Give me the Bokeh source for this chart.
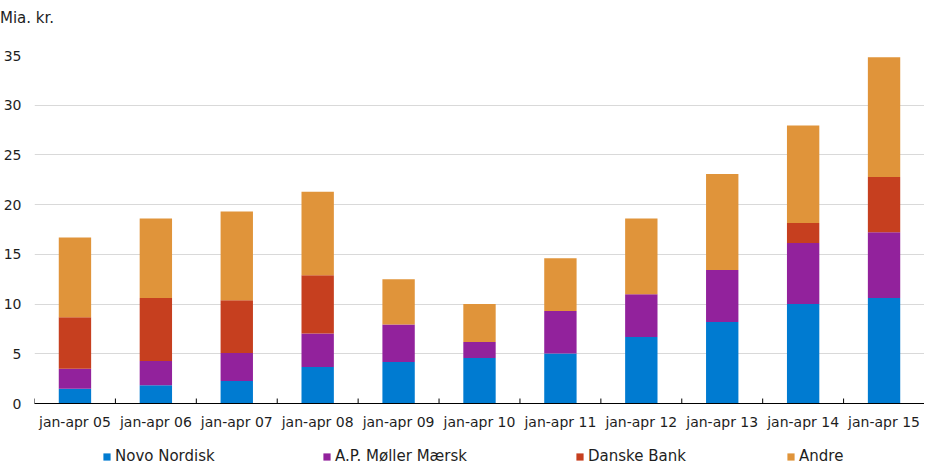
from bokeh.plotting import figure
from bokeh.layouts import column
from bokeh.models import FixedTicker, Legend, LegendItem, Range1d, ColumnDataSource, Div
from bokeh.embed import file_html
from bokeh.resources import INLINE

categories = ["jan-apr 05", "jan-apr 06", "jan-apr 07", "jan-apr 08", "jan-apr 09",
              "jan-apr 10", "jan-apr 11", "jan-apr 12", "jan-apr 13", "jan-apr 14", "jan-apr 15"]
novo_nordisk = [1.48, 1.84, 2.27, 3.68, 4.18, 4.58, 5.02, 6.70, 8.20, 10.01, 10.61]
ap_moller_maersk = [2.01, 2.44, 2.82, 3.35, 3.76, 1.61, 4.29, 4.28, 5.23, 6.13, 6.61]
danske_bank = [5.19, 6.32, 5.29, 5.87, 0.0, 0.0, 0.0, 0.0, 0.0, 2.01, 5.55]
andre = [8.02, 8.00, 8.92, 8.40, 4.56, 3.81, 5.29, 7.62, 9.65, 9.82, 12.06]
series_names = ["Novo Nordisk", "A.P. Møller Mærsk", "Danske Bank", "Andre"]
colors = ["#007bd1", "#92229c", "#c63f1f", "#e0943a"]
y_ticks = [0, 5, 10, 15, 20, 25, 30, 35]
unit_label = "Mia. kr."

FONT = "DejaVu Sans"
TXT = "#1e1e1e"
n = len(categories)

source = ColumnDataSource(data={
    "x": list(range(n)),
    series_names[0]: novo_nordisk,
    series_names[1]: ap_moller_maersk,
    series_names[2]: danske_bank,
    series_names[3]: andre,
})

# unit label above the chart
head = Div(text=f'<div style="font-family:\'{FONT}\';font-size:15px;line-height:18px;'
                f'color:{TXT};padding-top:9px;white-space:nowrap;">{unit_label}</div>',
           width=200, height=40, margin=0)

p = figure(width=924, height=392,
           x_range=Range1d(-0.5, n - 0.5), y_range=Range1d(0, y_ticks[-1]),
           output_backend="svg", toolbar_location=None,
           min_border_left=31, min_border_right=0, min_border_top=15, min_border_bottom=29)
p.outline_line_color = None
p.background_fill_color = "white"
p.border_fill_color = "white"

renderers = p.vbar_stack(series_names, x="x", width=0.4, color=colors,
                         line_color=None, source=source)

# y axis
p.yaxis.ticker = FixedTicker(ticks=y_ticks)
p.yaxis.axis_line_color = None
p.yaxis.major_tick_line_color = None
p.yaxis.major_tick_out = 0
p.yaxis.major_tick_in = 0
p.yaxis.minor_tick_line_color = None
p.yaxis.major_label_standoff = 13
p.yaxis.major_label_text_font = FONT
p.yaxis.major_label_text_font_size = "14px"
p.yaxis.major_label_text_color = TXT

# x axis
p.xaxis.ticker = FixedTicker(ticks=list(range(n)))
p.xaxis.major_label_overrides = {i: c for i, c in enumerate(categories)}
p.xaxis.major_tick_line_color = None
p.xaxis.major_tick_out = 0
p.xaxis.major_tick_in = 0
p.xaxis.minor_tick_line_color = None
p.xaxis.axis_line_color = "black"
p.xaxis.axis_line_width = 1
p.xaxis.major_label_standoff = 10
p.xaxis.major_label_text_font = FONT
p.xaxis.major_label_text_font_size = "14px"
p.xaxis.major_label_text_color = TXT

# grids
p.xgrid.grid_line_color = None
p.ygrid.ticker = FixedTicker(ticks=y_ticks[1:])
p.ygrid.grid_line_color = "#d9d9d9"
p.ygrid.grid_line_width = 1

# category boundary ticks (pointing inward)
bounds = [i - 0.5 for i in range(n + 1)]
p.segment(x0=bounds, y0=[0] * len(bounds), x1=bounds, y1=[0.5] * len(bounds),
          line_color="black", line_width=1)

# legend strip below the chart
lg = figure(width=924, height=33, x_range=Range1d(0, 1), y_range=Range1d(0, 1),
            output_backend="svg", toolbar_location=None,
            min_border_left=0, min_border_right=0, min_border_top=0, min_border_bottom=0)
lg.xaxis.visible = False
lg.yaxis.visible = False
lg.grid.visible = False
lg.outline_line_color = None
lg.border_fill_color = "white"

legend_x = [68, 288, 541, 752]
for name, col, lx in zip(series_names, colors, legend_x):
    # legend-only proxy glyph with zero height (draws nothing in the strip)
    proxy = lg.vbar(x=[0.5], top=[0], bottom=[0], width=0.4,
                    fill_color=col, line_color=None)
    leg = Legend(items=[LegendItem(label=name, renderers=[proxy])],
                 location=(lx, 0), orientation="horizontal",
                 glyph_width=9, glyph_height=9, label_standoff=4,
                 label_height=17, padding=0, margin=0, spacing=0,
                 border_line_color=None, background_fill_alpha=0,
                 label_text_font=FONT, label_text_font_size="15px",
                 label_text_color=TXT)
    lg.add_layout(leg, "center")

layout = column(head, p, lg, spacing=0)
open("out.html", "w").write(file_html(layout, INLINE))
